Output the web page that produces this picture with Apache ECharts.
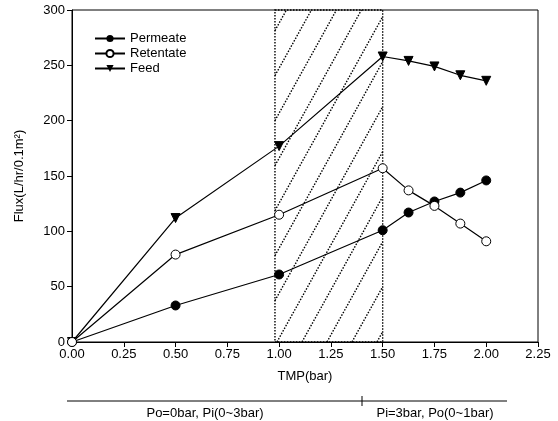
<!DOCTYPE html>
<html>
<head>
<meta charset="utf-8">
<script src="https://cdn.jsdelivr.net/npm/echarts@6/dist/echarts.min.js"></script>
<style>
  html, body { margin: 0; padding: 0; background: #fff; }
  #chart { width: 558px; height: 421px; }
</style>
</head>
<body>
<div id="chart"></div>
<script>
// TMP (bar) for each measured point
const tmp = [0, 0.5, 1.0, 1.5, 1.625, 1.75, 1.875, 2.0]
const permeate = [0, 33, 61, 101, 117, 127, 135, 146]
const retentate = [0, 79, 115, 157, 137, 123, 107, 91]
const feed = [0, 112, 177, 258, 254, 249, 241, 236]
// shaded region on the TMP axis
const hatchRange = [0.98, 1.5]
const bottomLabels = ['Po=0bar, Pi(0~3bar)', 'Pi=3bar, Po(0~1bar)']

const font = "'Liberation Sans', Arial, sans-serif"
const pairs = (ys) => tmp.map((x, i) => [x, ys[i]])

const chart = echarts.init(document.getElementById('chart'))

// dotted box + dotted diagonal hatch lines
const renderHatch = (params, api) => {
    const p0 = api.coord([api.value(0), 0])
    const p1 = api.coord([api.value(1), 300])
    const L = p0[0], R = p1[0], B = p0[1], T = p1[1]
    const H = B - T
    const k = 1.8, step = 25
    const dot = { stroke: '#000', lineWidth: 1.4, lineDash: [1.5, 1.5], fill: null }
    const children = []
    for (let b = L + 2 - Math.ceil(H / k / step) * step; b < R; b += step) {
        let x1 = b, y1 = B
        if (b < L) { x1 = L; y1 = B - (L - b) * k }
        let x2 = b + H / k, y2 = T
        if (x2 > R) { x2 = R; y2 = B - (R - b) * k }
        if (y1 <= T || y2 >= y1) continue
        children.push({ type: 'line', shape: { x1, y1, x2, y2 }, style: dot })
    }
    children.push({ type: 'rect', shape: { x: L, y: T, width: R - L, height: H }, style: dot })
    return { type: 'group', children }
}

chart.setOption({
    animation: false,
    textStyle: { fontFamily: font },
    grid: { left: 72, right: 20, top: 10, bottom: 79, show: true, borderColor: '#000', borderWidth: 1 },
    legend: {
        left: 89,
        top: 27,
        orient: 'vertical',
        itemWidth: 30,
        itemHeight: 9,
        itemGap: 2,
        textStyle: { fontSize: 13, color: '#000', fontFamily: font },
        data: ['Permeate', 'Retentate', 'Feed']
    },
    xAxis: {
        type: 'value',
        min: 0,
        max: 2.25,
        interval: 0.25,
        name: 'TMP(bar)',
        nameLocation: 'middle',
        nameGap: 28,
        nameTextStyle: { fontSize: 13, color: '#000' },
        splitLine: { show: false },
        axisLine: { lineStyle: { color: '#000', width: 1 } },
        axisTick: { length: 5, lineStyle: { color: '#000' } },
        axisLabel: { color: '#000', fontSize: 13, margin: 6, formatter: (v) => v.toFixed(2) }
    },
    yAxis: {
        type: 'value',
        min: 0,
        max: 300,
        interval: 50,
        name: 'Flux(L/hr/0.1m²)',
        nameLocation: 'middle',
        nameGap: 46,
        nameTextStyle: { fontSize: 13, color: '#000' },
        splitLine: { show: false },
        axisLine: { show: true, lineStyle: { color: '#000', width: 1 } },
        axisTick: { show: true, length: 5, lineStyle: { color: '#000' } },
        axisLabel: { color: '#000', fontSize: 13, margin: 7 }
    },
    graphic: [
        { type: 'line', shape: { x1: 67, y1: 401, x2: 507, y2: 401 }, style: { stroke: '#000', lineWidth: 1 } },
        { type: 'line', shape: { x1: 362, y1: 396, x2: 362, y2: 406 }, style: { stroke: '#000', lineWidth: 1 } },
        { type: 'text', x: 205, y: 413, style: { text: bottomLabels[0], fill: '#000', font: '13px ' + font, textAlign: 'center', textVerticalAlign: 'middle' } },
        { type: 'text', x: 435, y: 413, style: { text: bottomLabels[1], fill: '#000', font: '13px ' + font, textAlign: 'center', textVerticalAlign: 'middle' } }
    ],
    series: [
        {
            type: 'custom',
            renderItem: renderHatch,
            data: [hatchRange],
            encode: { x: [0, 1] },
            z: 1,
            silent: true
        },
        {
            name: 'Feed',
            type: 'line',
            data: pairs(feed),
            symbol: 'triangle',
            symbolRotate: 180,
            symbolSize: 9,
            lineStyle: { color: '#000', width: 1.2 },
            itemStyle: { color: '#000', borderColor: '#000' },
            z: 3
        },
        {
            name: 'Permeate',
            type: 'line',
            data: pairs(permeate),
            symbol: 'circle',
            symbolSize: 9,
            lineStyle: { color: '#000', width: 1.2 },
            itemStyle: { color: '#000', borderColor: '#000' },
            z: 4
        },
        {
            name: 'Retentate',
            type: 'line',
            data: pairs(retentate),
            symbol: 'circle',
            symbolSize: 9,
            lineStyle: { color: '#000', width: 1.2 },
            itemStyle: { color: '#fff', borderColor: '#000', borderWidth: 1 },
            z: 5
        }
    ]
})
</script>
</body>
</html>
